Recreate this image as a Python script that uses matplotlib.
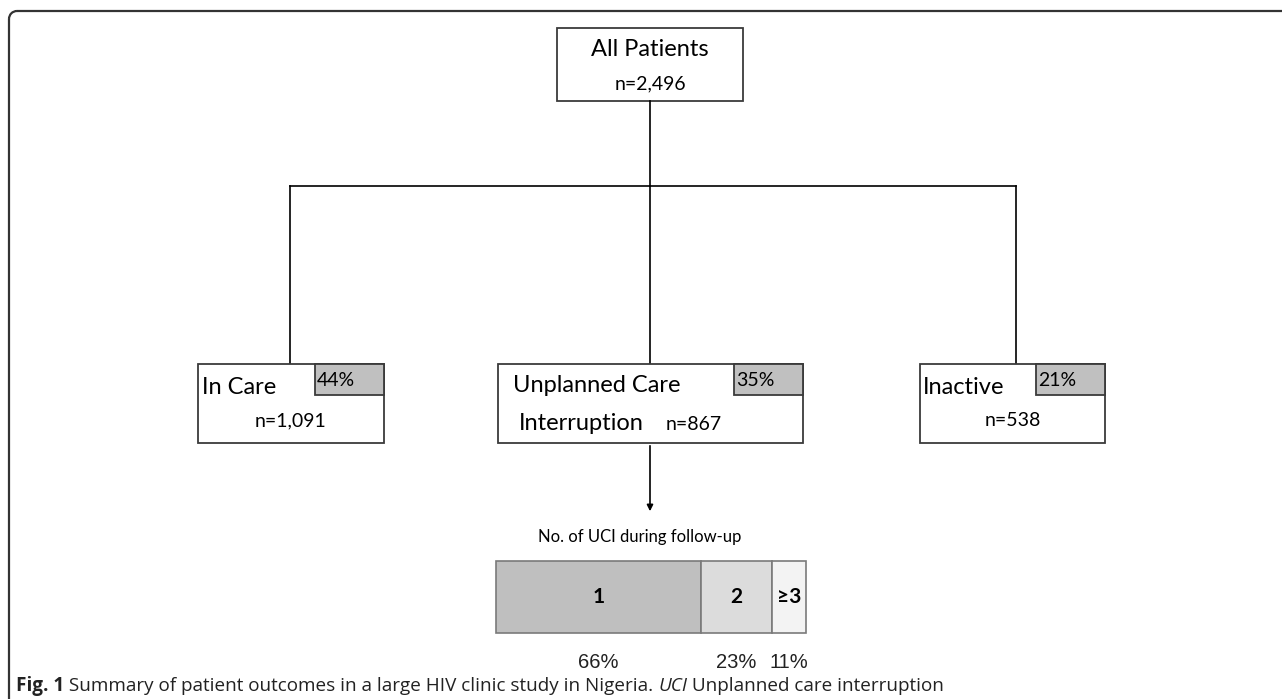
import matplotlib.pyplot as plt
from matplotlib.patches import Rectangle, Arc

# --- data ---
top_label = "All Patients"
top_n = "2,496"
group_labels = ["In Care", "Unplanned Care", "Inactive"]
group_n = ["1,091", "867", "538"]
group_pct = [44, 35, 21]
uci_title = "No. of UCI during follow-up"
uci_cats = ["1", "2", "\u22653"]
uci_pct = [66, 23, 11]
caption_bold = "Fig. 1"
caption_rest = " Summary of patient outcomes in a large HIV clinic study in Nigeria. "
caption_it = "UCI"
caption_end = " Unplanned care interruption"

BOX_FONT = "Lato"
EDGE = "#3a3a3a"

fig = plt.figure(figsize=(12.82, 6.99), dpi=100)
ax = fig.add_axes([0, 0, 1, 1])
ax.set_xlim(0, 1282)
ax.set_ylim(699, 0)
ax.axis("off")

# outer frame (top + left with rounded corner)
ax.plot([17, 1282], [11, 11], color="#333333", lw=1.6, solid_capstyle="butt")
ax.plot([9, 9], [19, 699], color="#333333", lw=1.6, solid_capstyle="butt")
ax.add_patch(Arc((17, 19), 16, 16, theta1=180, theta2=270, color="#333333", lw=1.6))

# top box
ax.add_patch(Rectangle((557, 28), 186, 73, fc="white", ec=EDGE, lw=1.3))
ax.text(650, 50, top_label, ha="center", va="center", fontsize=17, family=BOX_FONT)
ax.text(650, 84, "n=" + top_n, ha="center", va="center", fontsize=14, family=BOX_FONT)

# connectors
centers = [290, 650, 1016]
ax.plot([650, 650], [101, 186], color="black", lw=1.2)
ax.plot([centers[0], centers[-1]], [186, 186], color="black", lw=1.2)
for cx in centers:
    ax.plot([cx, cx], [186, 364], color="black", lw=1.2)

# group boxes
boxes = [(198, 186), (498, 305), (920, 185)]
for i, (x0, w) in enumerate(boxes):
    ax.add_patch(Rectangle((x0, 364), w, 79, fc="white", ec=EDGE, lw=1.3, zorder=2))
    ax.add_patch(Rectangle((x0 + w - 69, 364), 69, 31, fc="#c0c0c0", ec=EDGE, lw=1.3, zorder=3))
    ax.text(x0 + w - 67, 380, f"{group_pct[i]}%", ha="left", va="center",
            fontsize=14, family=BOX_FONT, zorder=4)

ax.text(202, 387, group_labels[0], ha="left", va="center", fontsize=17, family=BOX_FONT, zorder=4)
ax.text(291, 421, "n=" + group_n[0], ha="center", va="center", fontsize=14, family=BOX_FONT, zorder=4)

ax.text(513, 386, group_labels[1], ha="left", va="center", fontsize=17, family=BOX_FONT, zorder=4)
ax.text(519, 423, "Interruption", ha="left", va="center", fontsize=17, family=BOX_FONT, zorder=4)
ax.text(666, 424, "n=" + group_n[1], ha="left", va="center", fontsize=14, family=BOX_FONT, zorder=4)

ax.text(923, 387, group_labels[2], ha="left", va="center", fontsize=17, family=BOX_FONT, zorder=4)
ax.text(1013, 421, "n=" + group_n[2], ha="center", va="center", fontsize=14, family=BOX_FONT, zorder=4)

# arrow down to UCI breakdown
ax.annotate("", xy=(650, 514), xytext=(650, 443),
            arrowprops=dict(arrowstyle="-|>", color="black", lw=1.2, mutation_scale=9))
ax.text(640, 537, uci_title, ha="center", va="center", fontsize=12, family=BOX_FONT)

# stacked bar of UCI counts
bar_left, bar_width = 496, 310
colors = ["#bfbfbf", "#dcdcdc", "#f3f3f3"]
left = bar_left
for cat, pct, c in zip(uci_cats, uci_pct, colors):
    w = pct / sum(uci_pct) * bar_width
    ax.barh(597, w, left=left, height=72, color=c, edgecolor="#7a7a7a", lw=1.2)
    ax.text(left + w / 2, 597, cat, ha="center", va="center", fontsize=15,
            fontweight="bold", family=["Lato", "DejaVu Sans"])
    ax.text(left + w / 2, 662, f"{pct}%", ha="center", va="center", fontsize=14.5,
            family="Liberation Sans", color="#222222")
    left += w

# caption
t = ax.text(16, 686, caption_bold, ha="left", va="center", fontsize=13.6,
            fontweight="bold", family="Open Sans", color="#222222")
fig.canvas.draw()
bb = t.get_window_extent()
inv = ax.transData.inverted()
x = inv.transform((bb.x1, bb.y0))[0]
for s, style in [(caption_rest, "normal"), (caption_it, "italic"), (caption_end, "normal")]:
    t = ax.text(x, 686, s, ha="left", va="center", fontsize=13.6, style=style,
                family="Open Sans", color="#222222")
    fig.canvas.draw()
    bb = t.get_window_extent()
    x = inv.transform((bb.x1, bb.y0))[0]

fig.savefig("out.png", dpi=100)
